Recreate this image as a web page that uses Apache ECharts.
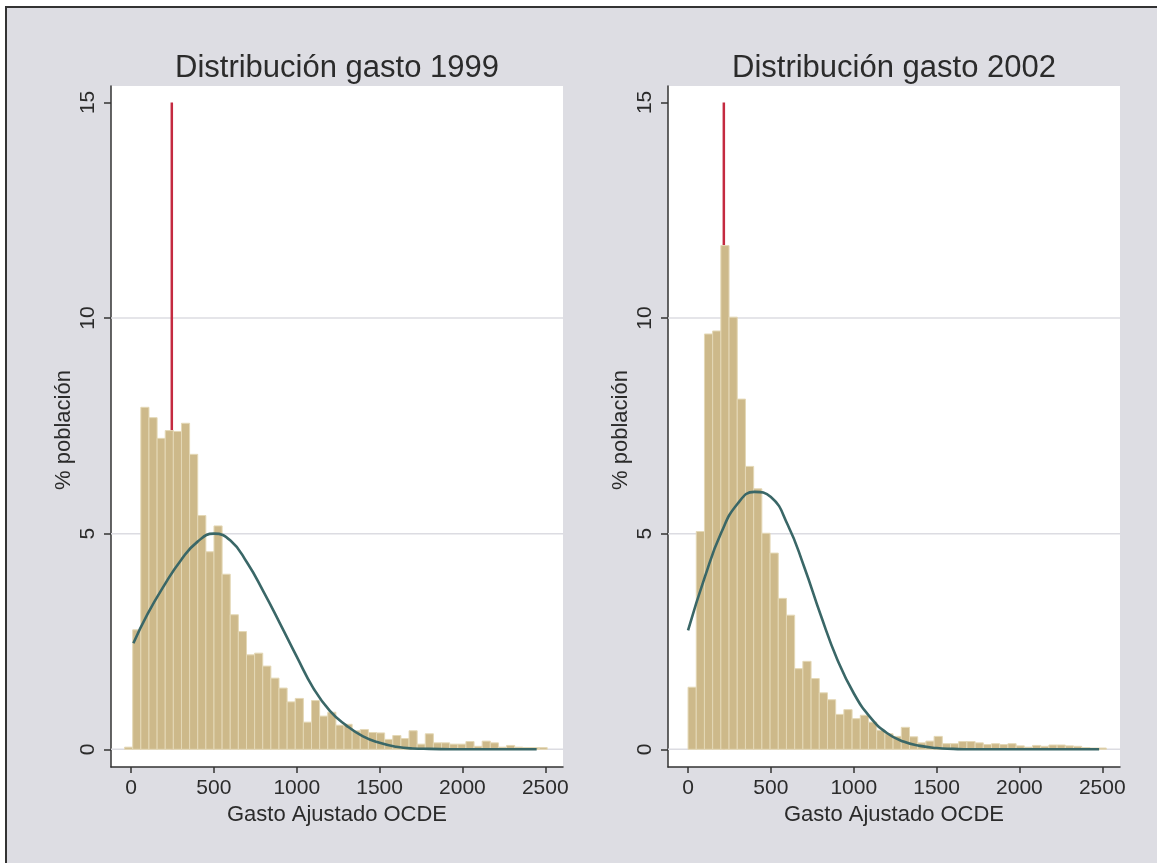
<!DOCTYPE html>
<html><head><meta charset="utf-8">
<script src="https://cdn.jsdelivr.net/npm/echarts@6/dist/echarts.min.js"></script>
<style>html,body{margin:0;padding:0;background:#fff;} #c{width:1157px;height:863px;}</style>
</head><body><div id="c"></div>
<script>
// ---- text ----
const titles = ['Distribución gasto 1999', 'Distribución gasto 2002'];
const xTitle = 'Gasto Ajustado OCDE';
const yTitle = '% población';
const xTicks = [0, 500, 1000, 1500, 2000, 2500];
const yTicks = [0, 5, 10, 15];
const gridValues = [0, 5, 10];

// ---- histogram 1999 (% of population per bin) ----
const binStart1999 = -39;
const binWidth1999 = 49.05;
const pct1999 = [0.05, 2.77, 7.93, 7.69, 7.21, 7.39, 7.37, 7.56, 6.84, 5.42,
  4.58, 5.18, 4.06, 3.12, 2.73, 2.19, 2.23, 1.93, 1.65, 1.42,
  1.10, 1.18, 0.63, 1.13, 0.77, 0.86, 0.56, 0.58, 0.43, 0.46,
  0.39, 0.38, 0.23, 0.32, 0.25, 0.43, 0.12, 0.36, 0.15, 0.15,
  0.12, 0.12, 0.18, 0.07, 0.19, 0.15, 0.05, 0.09, 0.05, 0.04, 0.04, 0.04];

// ---- histogram 2002 ----
const binStart2002 = 0;
const binWidth2002 = 49.5;
const pct2002 = [1.44, 5.05, 9.63, 9.70, 11.68, 10.02, 8.12, 6.56, 6.04, 5.01,
  4.55, 3.50, 3.11, 1.87, 2.04, 1.64, 1.31, 1.15, 0.81, 0.92,
  0.71, 0.79, 0.63, 0.44, 0.36, 0.30, 0.51, 0.29, 0.15, 0.19,
  0.30, 0.13, 0.13, 0.18, 0.18, 0.15, 0.11, 0.13, 0.11, 0.13,
  0.08, 0.05, 0.09, 0.07, 0.10, 0.10, 0.08, 0.07, 0.04, 0.03, 0.03];

// ---- overlaid density curves ----
const curve1999X = [14, 100, 200, 300, 400, 500, 600, 700, 800, 900, 1000, 1100, 1200, 1300, 1400, 1500, 1600, 1700, 1800, 2000, 2448];
const curve1999Y = [2.46, 3.14, 3.80, 4.38, 4.81, 5.00, 4.84, 4.33, 3.65, 2.91, 2.15, 1.42, 0.89, 0.55, 0.30, 0.15, 0.06, 0.02, 0.01, 0, 0];
const curve2002X = [0, 100, 200, 300, 400, 500, 600, 700, 800, 900, 1000, 1100, 1200, 1300, 1400, 1500, 1600, 1700, 2481];
const curve2002Y = [2.76, 3.98, 5.02, 5.70, 5.97, 5.85, 5.22, 4.24, 3.12, 2.09, 1.30, 0.74, 0.38, 0.18, 0.08, 0.03, 0.01, 0, 0];

// ---- vertical reference lines ----
const refLineX = [246, 216];
const refLineY = [0, 15];

const FONT = '"Liberation Sans", Arial, Helvetica, sans-serif';
const TXT = '#2b2b2b';
const gridsPos = [{left: 111, cx: 337}, {left: 668, cx: 894}];

function bins(start, w, vals) { return vals.map((v, i) => [start + i * w, start + (i + 1) * w, v]); }
function zip(a, b) { return a.map((x, i) => [x, b[i]]); }

function barRender(params, api) {
  const p0 = api.coord([api.value(0), 0]);
  const p1 = api.coord([api.value(1), api.value(2)]);
  return {type: 'rect', shape: {x: p0[0], y: p1[1], width: p1[0] - p0[0], height: p0[1] - p1[1]},
    style: {fill: '#cdb98a', stroke: '#e4d8b6', lineWidth: 1}};
}
function gridRender(params, api) {
  const cs = params.coordSys;
  const p = api.coord([0, api.value(0)]);
  return {type: 'line', shape: {x1: cs.x, y1: p[1], x2: cs.x + cs.width, y2: p[1]},
    style: {stroke: '#dcdce2', lineWidth: 1.5}};
}

const grid = [], xAxis = [], yAxis = [], series = [], graphic = [];
graphic.push({type: 'rect', z: -100, silent: true, shape: {x: 6, y: 7, width: 1200, height: 900},
  style: {fill: '#dddde3', stroke: '#333', lineWidth: 2}});

const histData = [bins(binStart1999, binWidth1999, pct1999), bins(binStart2002, binWidth2002, pct2002)];
const curves = [zip(curve1999X, curve1999Y), zip(curve2002X, curve2002Y)];
const plain = v => String(v);

for (let i = 0; i < 2; i++) {
  grid.push({left: gridsPos[i].left, top: 86, width: 452, height: 681, show: true,
    backgroundColor: '#fff', borderWidth: 0, containLabel: false});
  xAxis.push({type: 'value', gridIndex: i, min: -121, max: 2607,
    axisLine: {show: true, onZero: false, lineStyle: {color: '#333', width: 1.5}},
    axisTick: {show: true, customValues: xTicks, length: 6, lineStyle: {color: '#333', width: 1.5}},
    axisLabel: {customValues: xTicks, formatter: plain, fontSize: 21, color: TXT, margin: 11, fontFamily: FONT},
    splitLine: {show: false}});
  yAxis.push({type: 'value', gridIndex: i, min: -0.41, max: 15.38,
    axisLine: {show: true, onZero: false, lineStyle: {color: '#333', width: 1.5}},
    axisTick: {show: true, customValues: yTicks, length: 7, lineStyle: {color: '#333', width: 1.5}},
    axisLabel: {customValues: yTicks, formatter: plain, fontSize: 21, color: TXT, margin: 12, rotate: 90, fontFamily: FONT},
    splitLine: {show: false}});
  series.push({type: 'custom', xAxisIndex: i, yAxisIndex: i, z: 1, silent: true, clip: false,
    renderItem: gridRender, data: gridValues.map(v => [v])});
  series.push({type: 'line', xAxisIndex: i, yAxisIndex: i, z: 2, silent: true, symbol: 'none',
    data: refLineY.map(y => [refLineX[i], y]), lineStyle: {color: '#c42a40', width: 2.5}});
  series.push({type: 'custom', xAxisIndex: i, yAxisIndex: i, z: 3, silent: true, clip: false,
    renderItem: barRender, data: histData[i]});
  series.push({type: 'line', xAxisIndex: i, yAxisIndex: i, z: 4, silent: true, symbol: 'none',
    smooth: true, data: curves[i], lineStyle: {color: '#3a6767', width: 2.6}});

  graphic.push({type: 'text', x: gridsPos[i].cx, y: 68, silent: true,
    style: {text: titles[i], fontSize: 31, fontFamily: FONT, fill: TXT, align: 'center', verticalAlign: 'middle'}});
  graphic.push({type: 'text', x: gridsPos[i].cx, y: 815, silent: true,
    style: {text: xTitle, fontSize: 22, fontFamily: FONT, fill: TXT, align: 'center', verticalAlign: 'middle'}});
  graphic.push({type: 'text', x: gridsPos[i].left - 47, y: 430, rotation: Math.PI / 2, silent: true,
    style: {text: yTitle, fontSize: 22, fontFamily: FONT, fill: TXT, align: 'center', verticalAlign: 'middle'}});
}

const chart = echarts.init(document.getElementById('c'), null, {renderer: 'canvas'});
chart.setOption({animation: false, backgroundColor: '#fff', grid, xAxis, yAxis, series, graphic});
</script></body></html>
